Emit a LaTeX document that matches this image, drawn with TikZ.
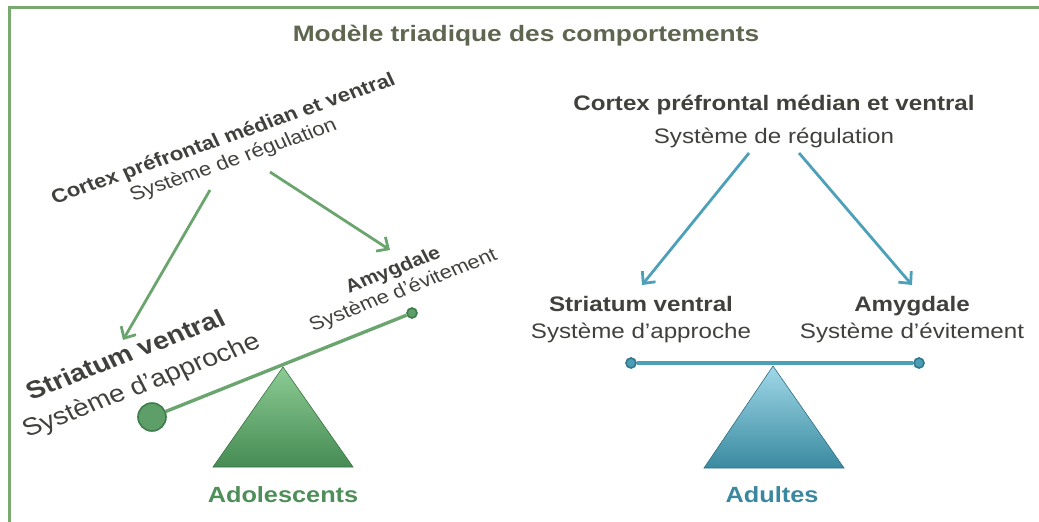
\documentclass[tikz,border=0pt]{standalone}
\usepackage{fontspec}
\setmainfont{Liberation Sans}
\usepackage{tikz}
\usetikzlibrary{arrows.meta,positioning,calc}
\definecolor{framegreen}{RGB}{120,170,112}
\definecolor{titleolive}{RGB}{94,102,80}
\definecolor{txtgray}{RGB}{64,64,60}
\definecolor{arrowgreen}{RGB}{106,165,110}
\definecolor{arrowblue}{RGB}{76,160,184}
\definecolor{trigreenTop}{RGB}{140,203,148}
\definecolor{trigreenBot}{RGB}{70,140,84}
\definecolor{triblueTop}{RGB}{160,216,232}
\definecolor{triblueBot}{RGB}{58,138,160}
\definecolor{dotgreen}{RGB}{94,158,104}
\definecolor{dotgreenEdge}{RGB}{62,125,75}
\definecolor{dotblue}{RGB}{74,157,181}
\definecolor{dotblueEdge}{RGB}{46,118,142}
\definecolor{labelgreen}{RGB}{78,142,88}
\definecolor{labelblue}{RGB}{58,136,160}
\newcommand{\fsz}[2]{\fontsize{#1}{#2}\selectfont}
\tikzset{
  >=Stealth,
  every node/.append style={font=\fsz{21}{27}},
}

\begin{document}
\begin{tikzpicture}[
  x=1pt, y=-1pt,
  title/.style={anchor=base, inner sep=0pt, xscale=1.18, text=titleolive, font=\fsz{22.3}{26}\bfseries},
  lbl/.style={align=center, inner sep=0pt, xscale=1.15, text=txtgray},
  groupname/.style={anchor=base, inner sep=0pt, xscale=1.15, font=\fsz{22}{24}\bfseries},
  arrowG/.style={-{Straight Barb[length=9pt, width=17pt]}, line width=2.8pt, color=arrowgreen},
  arrowB/.style={-{Straight Barb[length=9pt, width=17pt]}, line width=2.8pt, color=arrowblue},
  dotG/.style={circle, draw=dotgreenEdge, fill=dotgreen, line width=1.6pt, inner sep=0pt},
  dotB/.style={circle, draw=dotblueEdge, fill=dotblue, line width=1.6pt, inner sep=0pt},
  beamG/.style={line width=3.4pt, color=arrowgreen},
  beamB/.style={line width=3.4pt, color=arrowblue}
]
\useasboundingbox (0,0) rectangle (1039,522);

% Frame (only top and left edges show)
\draw[framegreen, line width=3pt] (9,522) -- (9,7) -- (1039,7);

% Title
\node[title] (title) at (526,41.5) {Modèle triadique des comportements};

% Adolescents: tilted balance
\node[lbl, rotate=22, font=\fsz{19.3}{23}] (cortexL) at (228.5,150)
  {\textbf{Cortex préfrontal médian et ventral}\\Système de régulation};
\node[lbl, rotate=24, font=\fsz{24.5}{33}] (striatumL) at (134,371.5)
  {\textbf{Striatum ventral}\\Système d’approche};
\node[lbl, rotate=24, font=\fsz{19}{22}] (amygdaleL) at (398.5,281)
  {{\fsz{18.5}{22}\textbf{Amygdale}}\\Système d’évitement};

\draw[arrowG] ([shift={(-18.5,40)}]cortexL.center) -- ([shift={(-11,-31.5)}]striatumL.center);
\draw[arrowG] ([shift={(41.5,22)}]cortexL.center) -- ([shift={(-8.5,-31)}]amygdaleL.center);

\node[dotG, minimum size=28pt] (heavyL) at (152,417) {};
\node[dotG, minimum size=10pt] (lightL) at (412,313) {};
\draw[beamG] (heavyL) -- (lightL);

\shadedraw[top color=trigreenTop, bottom color=trigreenBot, draw=trigreenBot!80!black, line width=0.6pt]
  (283,367) -- (353,467) -- (213,467) -- cycle;
\node[groupname, text=labelgreen] (ado) at (283,502) {Adolescents};

% Adultes: level balance
\node[lbl, font=\fsz{21}{33}] (cortexR) at (774,121.5)
  {\textbf{Cortex préfrontal médian et ventral}\\Système de régulation};
\node[lbl] (striatumR) at (641,320) {\textbf{Striatum ventral}\\Système d’approche};
\node[lbl] (amygdaleR) at (912,320) {\textbf{Amygdale}\\Système d’évitement};

\draw[arrowB] ([shift={(-25,31.5)}]cortexR.center) -- ([shift={(1,-35)}]striatumR.center);
\draw[arrowB] ([shift={(25,31.5)}]cortexR.center) -- ([shift={(0,-35)}]amygdaleR.center);

\node[dotB, minimum size=10pt] (leftR) at (631,363) {};
\node[dotB, minimum size=10pt] (rightR) at (919,363) {};
\draw[beamB] (leftR) -- (rightR);

\shadedraw[top color=triblueTop, bottom color=triblueBot, draw=triblueBot!80!black, line width=0.6pt]
  (773,366) -- (844,468) -- (704,468) -- cycle;
\node[groupname, text=labelblue] (adu) at (772,502) {Adultes};

\end{tikzpicture}
\end{document}
